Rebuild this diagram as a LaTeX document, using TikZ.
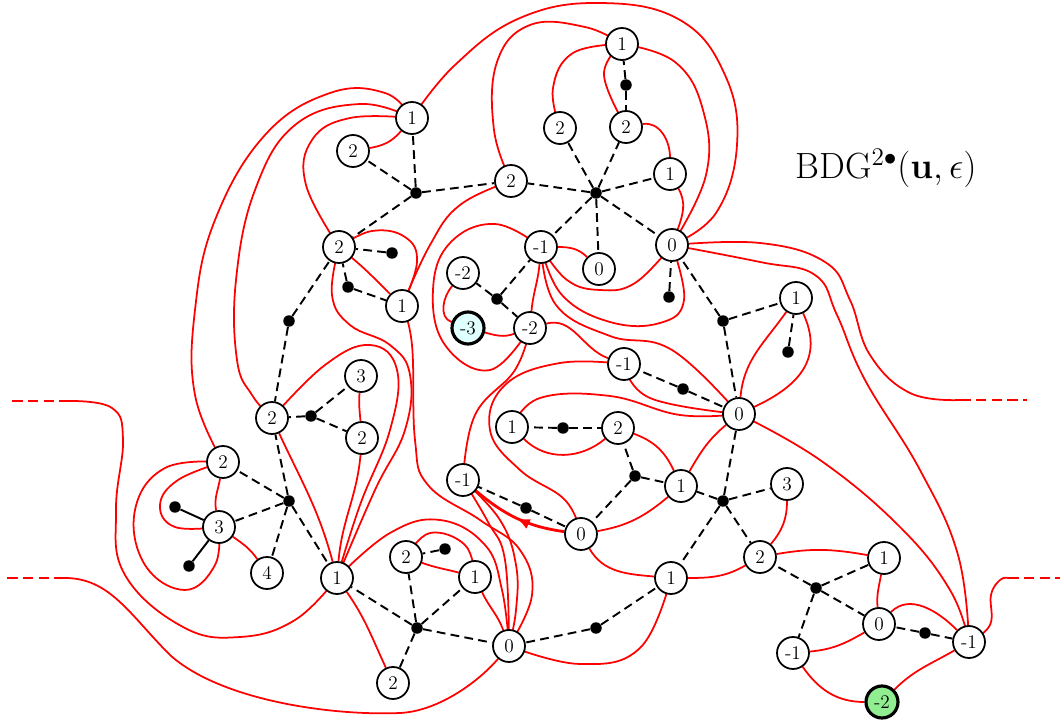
\documentclass[tikz,border=0pt]{standalone}
\usepackage{amsmath,amssymb}
\usetikzlibrary{arrows.meta,backgrounds,decorations.markings}
\definecolor{lcyan}{HTML}{E0FFFF}
\definecolor{lgreen}{HTML}{90EE90}

\begin{document}
\begin{tikzpicture}[x=0.02cm,y=-0.02cm,>=Latex]
\tikzset{vx/.style={circle,draw,line width=1pt,fill=white,minimum size=6.4mm,inner sep=0pt,font=\fontsize{11}{13}\selectfont}, dotv/.style={circle,fill,inner sep=0pt,minimum size=2.3mm}, rd/.style={red,line width=1pt}, dsh/.style={line width=1.1pt,dash pattern=on 5pt off 3pt}, rdsh/.style={red,line width=1pt,dash pattern=on 6pt off 3pt}, sm/.style={smooth,tension=0.7}, amid/.style={postaction={decorate},decoration={markings,mark=at position 0.5 with {\arrow{Latex[length=2.6mm,width=2.2mm]}}}}}
\useasboundingbox (0,0) rectangle (1063,723);
% circled vertices
\node[vx] (a1) at (412,118) {1};
\node[vx] (a2) at (353,151) {2};
\node[vx] (b2) at (511,181) {2};
\node[vx] (c2) at (339,247) {2};
\node[vx] (d1) at (402,306) {1};
\node[vx] (e1) at (622,44) {1};
\node[vx] (e2) at (626,127) {2};
\node[vx] (f2) at (560,128) {2};
\node[vx] (g1) at (670,174) {1};
\node[vx] (h0) at (672,245) {0};
\node[vx] (i0) at (599,269) {0};
\node[vx] (j1) at (541,247) {-1};
\node[vx] (k2) at (463,273) {-2};
\node[vx,fill=lcyan,line width=1.8pt] (k3) at (468,328) {-3};
\node[vx] (l2) at (530,328) {-2};
\node[vx] (m1) at (624,364) {-1};
\node[vx] (n1) at (796,298) {1};
\node[vx] (o0) at (739,414) {0};
\node[vx] (p1) at (512,427) {1};
\node[vx] (p2) at (618,428) {2};
\node[vx] (q1) at (463,480) {-1};
\node[vx] (r0) at (581,534) {0};
\node[vx] (r1) at (681,486) {1};
\node[vx] (t3) at (787,484) {3};
\node[vx] (t2) at (760,557) {2};
\node[vx] (u1) at (671,578) {1};
\node[vx] (w1) at (884,558) {1};
\node[vx] (w0) at (879,624) {0};
\node[vx] (x1) at (793,653) {-1};
\node[vx,fill=lgreen,line width=1.8pt] (x2) at (882,702) {-2};
\node[vx] (y1) at (969,642) {-1};
\node[vx] (z0) at (509,646) {0};
\node[vx] (l21) at (272,418) {2};
\node[vx] (l3) at (361,376) {3};
\node[vx] (l22) at (362,438) {2};
\node[vx] (l23) at (223,462) {2};
\node[vx] (l33) at (219,527) {3};
\node[vx] (l4) at (267,573) {4};
\node[vx] (l1) at (337,578) {1};
\node[vx] (m2) at (406,557) {2};
\node[vx] (m11) at (475,577) {1};
\node[vx] (m22) at (393,683) {2};
% black dots
\node[dotv] (s1) at (416,193) {};
\node[dotv] (s2) at (596,193) {};
\node[dotv] (s3) at (497,299) {};
\node[dotv] (s4) at (723,321) {};
\node[dotv] (s5) at (635,476) {};
\node[dotv] (s6) at (723,501) {};
\node[dotv] (s7) at (816,588) {};
\node[dotv] (s8) at (417,628) {};
\node[dotv] (s9) at (311,416) {};
\node[dotv] (s10) at (289,501) {};
\node[dotv] (de) at (626,85) {};
\node[dotv] (dc1) at (392,253) {};
\node[dotv] (dc2) at (348,287) {};
\node[dotv] (dc3) at (289,321) {};
\node[dotv] (dh) at (669,297) {};
\node[dotv] (dn) at (788,352) {};
\node[dotv] (dm) at (683,389) {};
\node[dotv] (dp) at (563,428) {};
\node[dotv] (dq) at (526,508) {};
\node[dotv] (dw) at (925,633) {};
\node[dotv] (du) at (596,628) {};
\node[dotv] (dm2) at (445,549) {};
\node[dotv] (da) at (175,507) {};
\node[dotv] (db) at (189,566) {};
% open ends
\coordinate (bL1) at (70,401); \coordinate (bL1e) at (7,401);
\coordinate (bL2) at (65,578); \coordinate (bL2e) at (7,578);
\coordinate (bR1) at (960,400); \coordinate (bR1e) at (1027,400);
\coordinate (bR2) at (1008,578); \coordinate (bR2e) at (1060,578);
\node[font=\huge] (ttl) at (886,168) {BDG$^{2\bullet}(\mathbf{u},\epsilon)$};

\begin{scope}[on background layer]
\foreach \u/\v in {s1/a1,s1/a2,s1/b2,s1/c2,s2/b2,s2/f2,s2/e2,s2/g1,s2/h0,s2/i0,s2/j1,de/e1,de/e2,dc1/c2,dc2/c2,dc2/d1,dc3/c2,dc3/l21,dh/h0,s4/h0,s4/n1,s4/o0,dn/n1,s3/k2,s3/j1,s3/l2,dm/m1,dm/o0,dp/p1,dp/p2,s5/p2,s5/r1,s5/r0,dq/q1,dq/r0,s6/o0,s6/r1,s6/t3,s6/t2,s6/u1,s7/t2,s7/w1,s7/w0,s7/x1,dw/w0,dw/y1,du/u1,du/z0,s8/z0,s8/l1,s8/m2,s8/m11,s8/m22,dm2/m2,s9/l21,s9/l3,s9/l22,s10/l21,s10/l23,s10/l33,s10/l4,s10/l1}
  \draw[dsh] (\u) -- (\v);
\draw[line width=1.1pt] (l33) -- (da) (l33) -- (db);
% boundary
\draw[rdsh] (bL1) -- (bL1e); \draw[rdsh] (bL2) -- (bL2e);
\draw[rdsh] (bR1) -- (bR1e); \draw[rdsh] (bR2) -- (bR2e);
% red curves
\draw[rd] plot[sm] coordinates {(a1) (455,65) (520,18) (600,3) (680,20) (725,75) (737,145) (716,213) (h0)};
\draw[rd] plot[sm] coordinates {(a1) (385,93) (330,93) (265,135) (215,220) (195,310) (195,395) (l23)};
\draw[rd] plot[sm] coordinates {(a1) (360,104) (295,125) (255,190) (236,280) (237,360) (252,395) (l21)};
\draw[rd] plot[sm] coordinates {(a1) (350,118) (312,140) (306,185) (c2)};
\draw[rd] (a1) to[out=-130,in=10] (a2);
\draw[rd] plot[sm] coordinates {(c2) (372,231) (405,237) (417,262) (d1)};
\draw[rd] (c2) to[out=-40,in=135] (d1);
\draw[rd] plot[sm] coordinates {(c2) (332,295) (350,325) (390,345) (410,375) (405,430) (375,490) (l1)};
\draw[rd] plot[sm] coordinates {(d1) (412,345) (415,440) (428,485) (480,520) (520,550) (532,595) (z0)};
\draw[rd] plot[sm] coordinates {(b2) (460,205) (430,245) (d1)};
\draw[rd] plot[sm] coordinates {(e1) (585,27) (530,25) (497,62) (494,130) (b2)};
\draw[rd] plot[sm] coordinates {(e1) (573,53) (553,88) (f2)};
\draw[rd] plot[sm] coordinates {(e1) (604,75) (e2)};
\draw[rd] plot[sm] coordinates {(e1) (675,62) (703,110) (706,175) (h0)};
\draw[rd] (e2) to[out=10,in=90] (g1);
\draw[rd] (g1) to[out=-60,in=70] (h0);
\draw[rd] plot[sm] coordinates {(h0) (760,243) (825,262) (850,300) (870,355) (910,393) (bR1)};
\draw[rd] plot[sm] coordinates {(h0) (760,262) (815,275) (837,315) (865,380) (920,470) (958,555) (y1)};
\draw[rd] plot[sm] coordinates {(j1) (562,295) (610,322) (660,323) (684,300) (h0)};
\draw[rd] plot[sm] coordinates {(j1) (567,280) (600,290) (635,283) (h0)};
\draw[rd] (j1) to[out=0,in=135] (i0);
\draw[rd] plot[sm] coordinates {(j1) (556,305) (610,336) (672,350) (o0)};
\draw[rd] (j1) to[out=-95,in=85] (l2);
\draw[rd] plot[sm] coordinates {(j1) (495,224) (450,243) (433,290) (445,345) (490,370) (l2)};
\draw[rd] (k2) to[out=-130,in=160] (k3);
\draw[rd] (k3) to[out=-15,in=-160] (l2);
\draw[rd] (l2) to[out=15,in=160] (m1);
\draw[rd] plot[sm] coordinates {(l2) (515,370) (475,415) (q1)};
\draw[rd] plot[sm] coordinates {(m1) (650,398) (o0)};
\draw[rd] plot[sm] coordinates {(m1) (560,363) (505,385) (490,430) (520,470) (565,500) (r0)};
\draw[rd] plot[sm] coordinates {(p1) (540,398) (610,396) (680,415) (o0)};
\draw[rd] (p1) to[out=-45,in=-140] (p2);
\draw[rd] (p2) to[out=-20,in=115] (r1);
\draw[rd] (r1) to[out=60,in=-140] (o0);
\draw[rd] (r1) to[out=-140,in=10] (r0);
\draw[rd] (r0) to[out=-60,in=175] (u1);
\draw[red,line width=1.6pt,amid] (r0) to[out=172,in=-40] (q1);
\draw[rd] plot[sm] coordinates {(q1) (500,520) (516,565) (516,610) (z0)};
\draw[rd] plot[sm] coordinates {(q1) (488,522) (505,560) (z0)};
\draw[rd] plot[sm] coordinates {(l1) (390,533) (440,520) (485,545) (502,590) (z0)};
\draw[rd] (m11) to[out=-65,in=110] (z0);
\draw[rd] plot[sm] coordinates {(m2) (430,533) (465,545) (m11)};
\draw[rd] (m2) to[out=-20,in=165] (m11);
\draw[rd] plot[sm] coordinates {(z0) (580,664) (640,648) (u1)};
\draw[rd] (bL2) .. controls (110,578) and (130,615) .. (170,655) .. controls (220,700) and (330,716) .. (400,713) .. controls (440,711) and (480,680) .. (z0);
\draw[rd] plot[sm] coordinates {(bL1) (112,408) (123,440) (116,510) (125,575) (183,627) (240,637) (295,620) (l1)};
\draw[rd] (l1) to[out=-55,in=115] (m22);
\draw[rd] (l1) to[out=105,in=-65] (l21);
\draw[rd] (l1) to[out=85,in=-95] (l22);
\draw[rd] plot[sm] coordinates {(l1) (360,505) (390,430) (397,370) (370,345) (325,365) (l21)};
\draw[rd] (l3) to[out=-95,in=95] (l22);
\draw[rd] plot[sm] coordinates {(l23) (165,468) (135,510) (145,565) (185,590) (215,565) (l33)};
\draw[rd] plot[sm] coordinates {(l23) (178,480) (160,505) (175,527) (l33)};
\draw[rd] (l23) to[out=-100,in=100] (l33);
\draw[rd] (l33) to[out=-35,in=125] (l4);
\draw[rd] (t3) to[out=-90,in=50] (t2);
\draw[rd] (u1) to[out=0,in=-150] (t2);
\draw[rd] (t2) to[out=10,in=170] (w1);
\draw[rd] (w1) to[out=-100,in=95] (w0);
\draw[rd] (w0) to[out=45,in=135] (y1);
\draw[rd] (w0) to[out=-150,in=5] (x1);
\draw[rd] (x1) to[out=-55,in=180] (x2);
\draw[rd] (x2) to[out=45,in=-150] (y1);
\draw[rd] plot[sm] coordinates {(o0) (820,460) (900,527) (950,590) (y1)};
\draw[rd] plot[sm] coordinates {(y1) (990,625) (991,595) (1000,580) (bR2)};
\draw[rd] (n1) to[out=-125,in=85] (o0);
\draw[rd] (n1) to[out=-65,in=25,looseness=1.2] (o0);
\end{scope}
\end{tikzpicture}
\end{document}
